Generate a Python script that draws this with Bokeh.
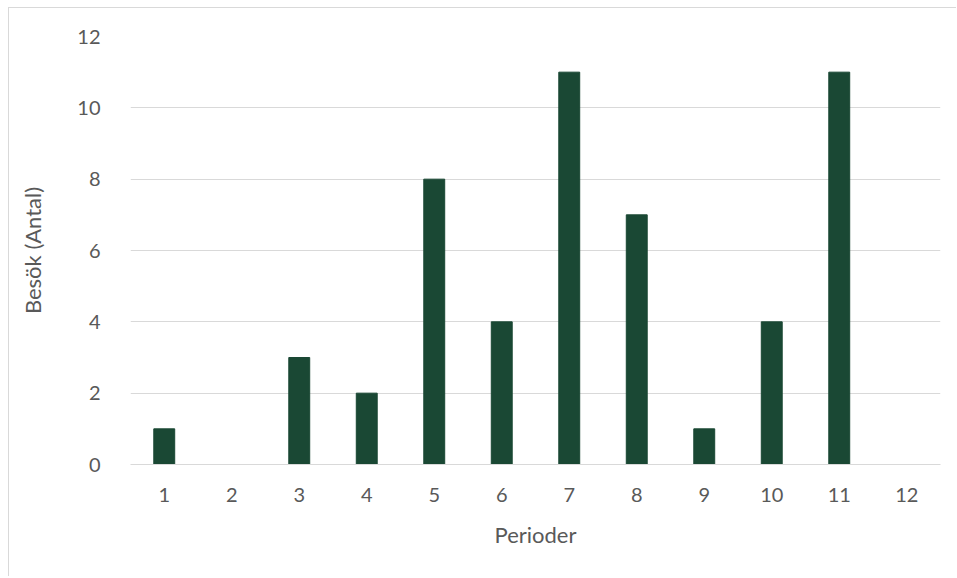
from bokeh.plotting import figure
from bokeh.embed import file_html
from bokeh.resources import INLINE
from bokeh.models import FixedTicker

periods = ["1", "2", "3", "4", "5", "6", "7", "8", "9", "10", "11", "12"]
visits = [1, 0, 3, 2, 8, 4, 11, 7, 1, 4, 11, 0]
y_ticks = [0, 2, 4, 6, 8, 10, 12]

FONT = "Lato"
TXT = "#595959"
GRID = "#d9d9d9"

p = figure(x_range=periods, y_range=(0, 12), width=948, height=569,
           output_backend="svg", toolbar_location=None,
           min_border_left=121, min_border_right=17,
           min_border_top=28, min_border_bottom=113)
p.styles = {"margin-left": "8px", "margin-top": "7px",
            "border-left": "1px solid #d9d9d9", "border-top": "1px solid #d9d9d9"}
p.outline_line_color = None
p.background_fill_color = "white"
p.border_fill_color = "white"

p.vbar(x=periods, top=visits, width=0.31, color="#1A4834", line_color="#1A4834")

p.xgrid.grid_line_color = None
p.ygrid.grid_line_color = GRID
p.ygrid.grid_line_width = 1
p.yaxis.ticker = FixedTicker(ticks=y_ticks)

for ax in (p.xaxis, p.yaxis):
    ax.major_tick_line_color = None
    ax.minor_tick_line_color = None
    ax.major_label_text_font = FONT
    ax.major_label_text_color = TXT
    ax.major_label_text_font_size = "20px"
    ax.axis_label_text_font = FONT
    ax.axis_label_text_color = TXT
    ax.axis_label_text_font_size = "22px"
    ax.axis_label_text_font_style = "normal"

p.xaxis.axis_line_color = GRID
p.yaxis.axis_line_color = None
p.xaxis.major_label_standoff = 17
p.yaxis.major_label_standoff = 24
p.xaxis.axis_label = "Perioder"
p.yaxis.axis_label = "Besök (Antal)"
p.xaxis.axis_label_standoff = 16
p.yaxis.axis_label_standoff = 28

open("out.html", "w").write(file_html(p, INLINE))
